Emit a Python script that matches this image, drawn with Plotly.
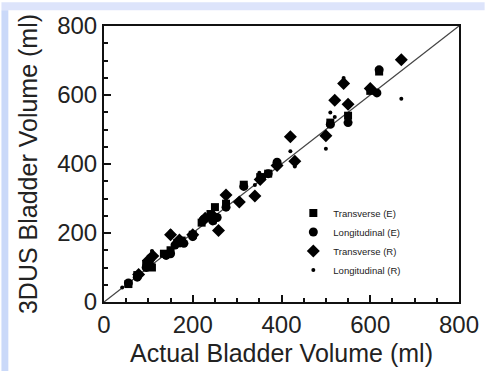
import plotly.graph_objects as go

# ---- data ----
te_x = [55, 75, 95, 108, 135, 150, 165, 175, 200, 220, 240, 250, 275, 315, 352, 370, 390, 510, 550, 600, 620]
te_y = [52, 78, 110, 100, 140, 150, 170, 178, 195, 230, 255, 275, 285, 340, 362, 372, 400, 520, 540, 612, 668]

le_x = [55, 75, 95, 105, 140, 150, 160, 180, 200, 225, 245, 255, 275, 315, 355, 370, 390, 510, 550, 615, 620]
le_y = [55, 72, 100, 105, 135, 140, 165, 170, 190, 240, 235, 245, 275, 335, 360, 372, 405, 515, 520, 606, 673]

tr_x = [78, 100, 110, 150, 170, 200, 228, 245, 258, 275, 305, 340, 352, 390, 420, 430, 500, 520, 540, 550, 600, 670]
tr_y = [80, 120, 133, 195, 180, 195, 243, 250, 207, 310, 290, 307, 355, 396, 479, 408, 482, 585, 633, 573, 619, 702]

lr_x = [41, 75, 98, 108, 150, 160, 180, 220, 245, 250, 275, 315, 340, 350, 390, 420, 430, 500, 510, 520, 540, 550, 600, 670]
lr_y = [42, 70, 95, 148, 205, 160, 175, 228, 260, 230, 290, 345, 339, 375, 400, 437, 393, 444, 549, 536, 649, 530, 612, 589]

axis_range = [0, 800]
tick_vals = [0, 200, 400, 600, 800]
tick_text = ["0", "200", "400", "600", "800"]

series_names = ["Transverse (E)", "Longitudinal (E)", "Transverse (R)", "Longitudinal (R)"]

W, H = 491, 375
ML, MR, MT, MB = 104, 27, 24, 71
PW, PH = W - ML - MR, H - MT - MB


def px_x(p):
    return (p - ML) / PW


def px_y(p):  # p measured from top of figure
    return (H - MB - p) / PH


fig = go.Figure()

# identity line
fig.add_trace(go.Scatter(x=axis_range, y=axis_range, mode="lines",
                         line=dict(color="#444444", width=1.3),
                         showlegend=False, hoverinfo="skip"))

specs = [
    (te_x, te_y, "square", 8),
    (le_x, le_y, "circle", 9),
    (tr_x, tr_y, "diamond", 10),
    (lr_x, lr_y, "circle", 4),
]
for (xs, ys, sym, sz), name in zip(specs, series_names):
    fig.add_trace(go.Scatter(x=xs, y=ys, mode="markers", name=name,
                             marker=dict(symbol=sym, size=sz, color="black",
                                         line=dict(width=0))))

# background decoration: light blue top band and left strip
shapes = [
    dict(type="rect", xref="paper", yref="paper",
         x0=px_x(0), x1=px_x(W - 1), y0=px_y(8), y1=px_y(0),
         fillcolor="#dde4fb", line=dict(width=0), layer="below"),
    dict(type="rect", xref="paper", yref="paper",
         x0=px_x(0), x1=px_x(7), y0=px_y(H - 1), y1=px_y(8),
         fillcolor="#cad9f9", line=dict(width=0), layer="below"),
]

font_main = "Liberation Sans, Arial, sans-serif"

axis_common = dict(range=axis_range, tickvals=tick_vals, ticktext=tick_text,
                   ticks="inside", ticklen=7, tickwidth=1.5, tickcolor="#111",
                   showline=True, linecolor="#111", linewidth=2, mirror=True,
                   showgrid=False, zeroline=False,
                   tickfont=dict(family=font_main, size=24, color="#222"),
                   minor=dict(dtick=50, ticks="inside", ticklen=4, tickwidth=1.5,
                              tickcolor="#111", showgrid=False))

fig.update_layout(
    width=W, height=H,
    margin=dict(l=ML, r=MR, t=MT, b=MB, pad=0),
    paper_bgcolor="white",
    plot_bgcolor="white",
    shapes=shapes,
    xaxis=dict(**axis_common,
               title=dict(text="Actual Bladder Volume (ml)", standoff=8,
                          font=dict(family=font_main, size=25, color="#222"))),
    yaxis=dict(**axis_common,
               title=dict(text="3DUS Bladder Volume (ml)", standoff=12,
                          font=dict(family=font_main, size=25, color="#222"))),
    legend=dict(x=px_x(296), y=px_y(199), xanchor="left", yanchor="top",
                bgcolor="rgba(0,0,0,0)", borderwidth=0,
                font=dict(family=font_main, size=9.5, color="#222"),
                itemwidth=30, tracegroupgap=0),
    showlegend=True,
)

fig.write_html("out.html")
